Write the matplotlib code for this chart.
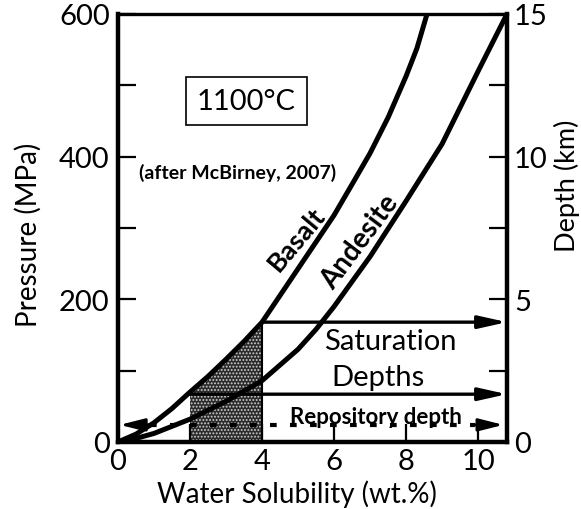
import numpy as np
import matplotlib
matplotlib.use("Agg")
import matplotlib.pyplot as plt

# Water solubility (wt.%) vs pressure (MPa) at 1100 °C
basalt_wt = [0.0, 0.5, 1.0, 1.5, 2.0, 2.5, 3.0, 3.5, 4.0, 5.0, 6.0, 6.6, 7.0, 7.5, 8.0, 8.3, 8.58]
basalt_p = [0, 11, 27, 47, 70, 92, 116, 141, 168, 243, 318, 370, 405, 455, 513, 552, 600]

andesite_wt = [0.0, 0.5, 1.0, 2.0, 3.0, 4.0, 5.0, 5.5, 6.0, 7.0, 8.0, 9.0, 10.0, 10.8]
andesite_p = [0, 5, 12, 32, 57, 86, 130, 158, 190, 260, 338, 418, 520, 600]

# Saturation pressures (MPa) for 4 wt.% and 2 wt.% water in basalt, repository level
sat_high_p = 168
sat_low_p = 67
repository_p = 24
shade_wt = [2.0, 4.0]

x_ticks = [0, 2, 4, 6, 8, 10]
p_ticks = [0, 200, 400, 600]
p_minor = [100, 300, 500]
depth_ticks = [0, 5, 10, 15]
depth_minor = [2.5, 7.5, 12.5]

plt.rcParams['font.family'] = ['Lato', 'DejaVu Sans']
plt.rcParams['hatch.color'] = '#d0d0d0'
plt.rcParams['hatch.linewidth'] = 0.9

fig = plt.figure(figsize=(5.81, 5.10), dpi=100)
ax = fig.add_axes([0.2031, 0.1314, 0.6695, 0.8392])
ax.set_xlim(0, 10.8)
ax.set_ylim(0, 600)

# shaded field under the basalt curve between 2 and 4 wt.%
bw = np.array(basalt_wt)
bp = np.array(basalt_p)
sel = (bw >= shade_wt[0]) & (bw <= shade_wt[1])
ax.fill_between(bw[sel], 0, bp[sel], facecolor='#2b2b2b', hatch='.....',
                edgecolor='#d0d0d0', linewidth=0, zorder=1)
ax.plot([shade_wt[1], shade_wt[1]], [0, sat_high_p], color='black', lw=1.5, zorder=2)

# solubility curves
ax.plot(basalt_wt, basalt_p, color='black', lw=3.6, solid_capstyle='butt', zorder=3)
ax.plot(andesite_wt, andesite_p, color='black', lw=3.6, solid_capstyle='butt', zorder=3)

# saturation depth arrows
arrow_kw = dict(arrowstyle='-|>,head_length=1.7,head_width=0.38', color='black',
                lw=2.4, shrinkA=0, shrinkB=0)
ax.annotate('', xy=(10.8, sat_high_p), xytext=(shade_wt[1], sat_high_p),
            arrowprops=arrow_kw, annotation_clip=False, zorder=4)
ax.annotate('', xy=(10.8, sat_low_p), xytext=(shade_wt[0], sat_low_p),
            arrowprops=arrow_kw, annotation_clip=False, zorder=4)

# repository depth: dashed line with heads at both ends
ax.plot([0.9, 9.9], [repository_p, repository_p], color='black', lw=3,
        linestyle=(0, (1.6, 3.2)), zorder=4)
head_kw = dict(arrowstyle='-|>,head_length=1.5,head_width=0.38', color='black',
               lw=2.0, shrinkA=0, shrinkB=0)
ax.annotate('', xy=(0.05, repository_p), xytext=(0.9, repository_p),
            arrowprops=head_kw, annotation_clip=False, zorder=4)
ax.annotate('', xy=(10.7, repository_p), xytext=(9.9, repository_p),
            arrowprops=head_kw, annotation_clip=False, zorder=4)

# labels in the plot
ax.text(3.56, 478, '1100°C', fontsize=21, ha='center', va='center',
        bbox=dict(boxstyle='square,pad=0.38', facecolor='white', edgecolor='black', lw=1.2))
ax.text(3.33, 378, '(after McBirney, 2007)', fontsize=14, ha='center', va='center',
        fontweight='bold')
ax.text(4.95, 285, 'Basalt', fontsize=19.5, ha='center', va='center', rotation=50,
        fontweight='bold')
ax.text(6.72, 282, 'Andesite', fontsize=20, ha='center', va='center', rotation=53,
        fontweight='bold')
ax.text(7.56, 142, 'Saturation', fontsize=21, ha='center', va='center')
ax.text(7.22, 91, 'Depths', fontsize=21, ha='center', va='center')
ax.text(7.17, 36, 'Repository depth', fontsize=16, ha='center', va='center',
        fontweight='bold', zorder=5)

# axes styling
for side in ['left', 'bottom', 'right']:
    ax.spines[side].set_linewidth(3.2)
ax.spines['top'].set_linewidth(2.4)

ax.set_xticks(x_ticks)
ax.set_yticks(p_ticks)
ax.set_yticks(p_minor, minor=True)
ax.tick_params(axis='both', which='both', direction='in', length=13, width=1.6,
               labelsize=21, pad=6)
ax.tick_params(axis='x', pad=4)
ax.set_xlabel('Water Solubility (wt.%)', fontsize=20)
ax.xaxis.set_label_coords(0.46, -0.088)
ax.set_ylabel('Pressure (MPa)', fontsize=20)
ax.yaxis.set_label_coords(-0.195, 0.486)

ax2 = ax.twinx()
ax2.set_ylim(0, 600 / 40)
ax2.set_yticks(depth_ticks)
ax2.set_yticks(depth_minor, minor=True)
ax2.tick_params(axis='y', which='both', direction='in', length=13, width=1.6,
                labelsize=21, pad=5)
for s in ax2.spines.values():
    s.set_visible(False)
ax2.set_ylabel('Depth (km)', fontsize=19.5)
ax2.yaxis.set_label_coords(1.12, 0.6)

fig.savefig('out.png', dpi=100)
